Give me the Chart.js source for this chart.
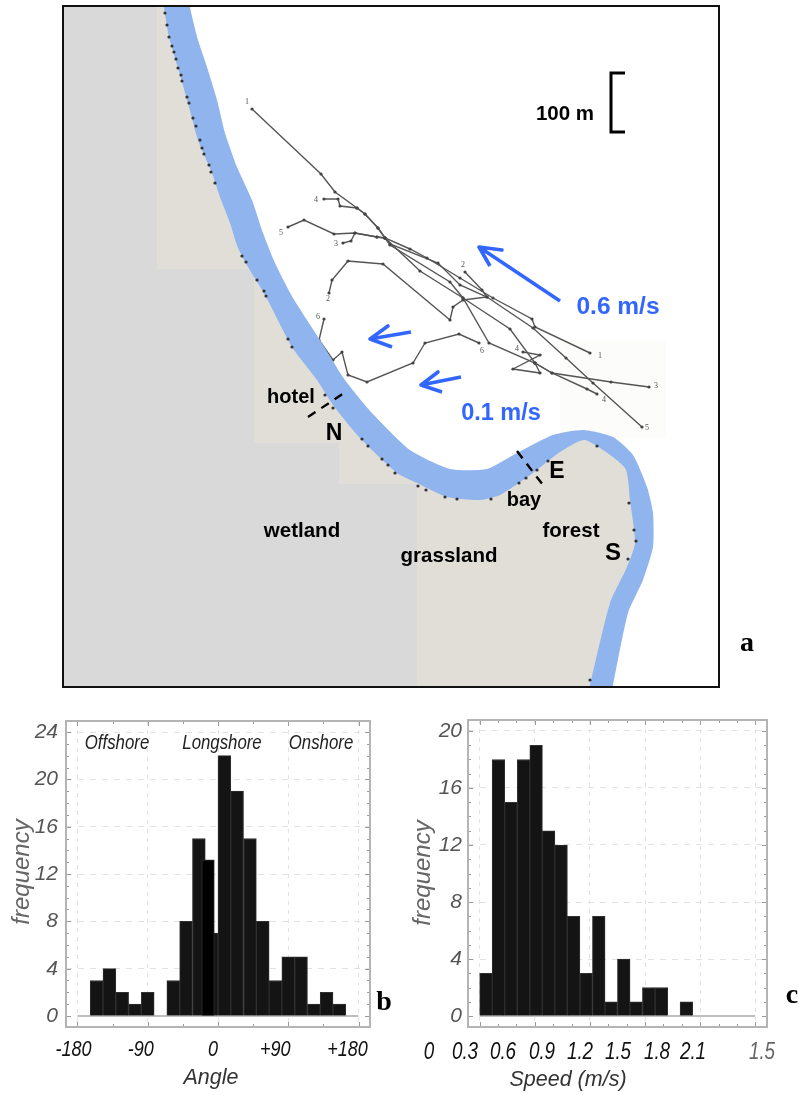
<!DOCTYPE html>
<html>
<head>
<meta charset="utf-8">
<title>drifter tracks and histograms</title>
<script src="https://cdn.jsdelivr.net/npm/chart.js@4"></script>
<style>
	body { margin: 0; background: #fff; }
	canvas { position: absolute; }
	#mapChart { left: 0; top: 0; }
	#angleChart { left: 0; top: 700px; }
	#speedChart { left: 400px; top: 700px; }
</style>
</head>
<body>
<canvas id="mapChart" width="799" height="700"></canvas>
<canvas id="angleChart" width="400" height="395"></canvas>
<canvas id="speedChart" width="399" height="395"></canvas>

<script>
// =====================================================
// data : map
const riverRight = [[190, -5], [190, 7], [198, 40], [207, 67], [217, 100], [225, 133], [237, 167], [252, 200], [263, 233], [275, 263], [293, 298], [320, 340], [345, 380], [372, 413], [410, 450], [450, 469], [487, 469], [517, 453], [553, 435], [583, 430], [613, 437], [633, 455], [647, 487], [653, 513], [653, 547], [643, 580], [628, 613], [613, 685], [611, 695]];
const riverLeft = [[163, -5], [164, 7], [169, 37], [178, 68], [188, 103], [198, 140], [212, 173], [220, 197], [230, 223], [238, 248], [248, 267], [265, 295], [292, 347], [317, 380], [333, 405], [360, 438], [397, 473], [417, 483], [447, 497], [480, 500], [500, 495], [533, 473], [560, 452], [585, 440], [625, 468], [630, 500], [635, 543], [627, 567], [610, 603], [590, 685], [588, 695]];
const riverMid = [[177, 6], [190, 67], [212, 133], [237, 200], [259, 267], [302, 340], [331, 380], [352, 408], [385, 443], [413, 467], [450, 483], [482, 485], [508, 475], [537, 457], [563, 445], [585, 436], [605, 450], [628, 470], [638, 493], [643, 520], [644, 543], [637, 572], [620, 610], [602, 687]];
const wetland = [[63, 6], [157, 6], [157, 269], [254, 269], [254, 443], [339, 443], [339, 484], [417, 484], [417, 687], [63, 687]];
const landEdge = [[417, 687], [417, 484], [339, 484], [339, 443], [254, 443], [254, 269], [157, 269], [157, 6]];
const photoPatch = [[560, 340], [666, 340], [666, 438], [560, 438]];

const track1 = [[252, 109], [321, 174], [335, 192], [357, 208], [365, 214], [378, 228], [385, 238], [410, 249], [427, 258], [460, 278], [493, 298], [532, 319], [535, 327], [590, 353]];
const track2 = [[329, 293], [332, 280], [348, 261], [383, 264], [450, 320], [453, 307], [463, 300], [487, 297], [482, 290], [465, 272]];
const track3 = [[343, 243], [351, 241], [355, 233], [377, 237], [385, 238], [420, 271], [463, 298], [510, 329], [535, 363], [552, 373], [611, 382], [649, 387]];
const track4 = [[324, 199], [338, 199], [340, 206], [357, 208], [365, 214], [378, 228], [385, 238], [390, 245], [450, 282], [463, 298], [489, 343], [535, 363], [552, 373], [587, 389], [597, 394]];
const track4b = [[535, 363], [540, 373], [513, 369], [540, 355], [523, 352]];
const track5 = [[288, 227], [304, 220], [334, 234], [355, 233], [377, 237], [385, 238], [390, 244], [438, 263], [460, 285], [487, 297], [533, 328], [566, 358], [593, 383], [642, 427]];
const track6 = [[324, 319], [319, 340], [333, 360], [342, 352], [348, 375], [367, 382], [413, 363], [425, 343], [459, 334], [479, 343]];

const coastDots = [[165, 13], [167, 25], [169, 37], [172, 46], [174, 52], [176, 59], [178, 68], [181, 75], [182, 81], [187, 97], [189, 103], [193, 118], [196, 126], [200, 140], [202, 148], [204, 154], [209, 165], [211, 172], [215, 183], [242, 256], [246, 262], [257, 280], [264, 291], [266, 296], [288, 339], [292, 347], [325, 395], [333, 408], [362, 439], [368, 446], [382, 459], [388, 465], [395, 473], [418, 486], [426, 490], [445, 497], [457, 499], [491, 499], [519, 483], [526, 478], [537, 470], [548, 461], [597, 446], [629, 503], [634, 530], [636, 541], [628, 559], [590, 680]];

const arrowFast = [[560, 301], [479, 247], [502, 250], [479, 247], [490, 266]];
const arrowMid = [[411, 332], [370, 339], [388, 326], [370, 339], [392, 347]];
const arrowSlow = [[461, 377], [421, 385], [438, 372], [421, 385], [442, 392]];
const scaleBar = [[625, 73], [611, 73], [611, 132], [625, 132]];
const hotelLine = [[308, 417], [347, 391]];
const bayLine = [[517, 451], [546, 489]];

// data : angle histogram
const angleBins = [-171.8, -155.5, -139.1, -122.7, -106.4, -90, -73.6, -57.3, -40.9, -24.5, -8.2, 8.2, 24.5, 40.9, 57.3, 73.6, 90, 106.4, 122.7, 139.1, 155.5, 171.8];
const angleFreq = [0, 3, 4, 2, 1, 2, 0, 3, 8, 15, 7, 22, 19, 15, 8, 3, 5, 5, 1, 2, 1, 0];
const angleOverBin = [-12.8];
const angleOverFreq = [13.2];
const angleTicks = [-180, -90, 0, 90, 180];
const angleMinorTicks = [-135, -45, 45, 135];
const angleTickLabels = ["-180", "-90", "0", "+90", "+180"];
const angleFreqTicks = [0, 1, 2, 3, 4, 5, 6, 7, 8, 9, 10, 11, 12, 13, 14, 15, 16, 17, 18, 19, 20, 21, 22, 23, 24];

// data : speed histogram
const speedBins = [0.034, 0.102, 0.170, 0.239, 0.307, 0.375, 0.443, 0.511, 0.580, 0.648, 0.716, 0.784, 0.852, 0.920, 0.989, 1.057, 1.125, 1.193, 1.261, 1.330, 1.398, 1.466];
const speedFreq = [3, 18, 15, 18, 19, 13, 12, 7, 3, 7, 1, 4, 1, 2, 2, 0, 1, 0, 0, 0, 0, 0];
const speedTicks = [0, 0.3, 0.6, 0.9, 1.2, 1.5];
const speedMinorTicks = [0.1, 0.2, 0.4, 0.5, 0.7, 0.8, 1.0, 1.1, 1.3, 1.4];
const speedTickLabels = ["0", "0.3", "0.6", "0.9", "1.2", "1.5", "1.8", "2.1", "1.5"];
const speedFreqTicks = [0, 1, 2, 3, 4, 5, 6, 7, 8, 9, 10, 11, 12, 13, 14, 15, 16, 17, 18, 19, 20];

// =====================================================
const SANS = '"Liberation Sans", Arial, sans-serif';
const SERIF = '"Liberation Serif", serif';
const BLUE = "#3366ff";

// squeeze : 가로로 좁힌 글자 (Arial Narrow 대신)
function putText(ctx, text, x, y, font, color, rotate, squeeze) {
	ctx.save();
	ctx.translate(x, y);
	if (rotate) ctx.rotate(rotate);
	if (squeeze) ctx.scale(squeeze, 1);
	ctx.font = font;
	ctx.fillStyle = color;
	ctx.textAlign = "center";
	ctx.textBaseline = "middle";
	ctx.fillText(text, 0, 0);
	ctx.restore();
}

function trackSet(points) {
	return {
		data: points, borderColor: "#555", borderWidth: 1.4, tension: 0,
		pointRadius: 1.6, pointBackgroundColor: "#444", pointBorderWidth: 0
	};
}

function arrowSet(points) {
	return { data: points, borderColor: BLUE, borderWidth: 3.6, pointRadius: 0, tension: 0, borderJoinStyle: "round" };
}

function inkSet(points, dash) {
	return { data: points, borderColor: "#000", borderWidth: dash ? 2.4 : 3, borderDash: dash || [], pointRadius: 0, tension: 0 };
}

function areaSet(points, color, tension) {
	return {
		data: points, fill: "shape", backgroundColor: color, borderWidth: 0, pointRadius: 0,
		tension: tension || 0, capBezierPoints: false, clip: 0
	};
}

// 지도
const mapTexts = [
	["100 m", 565, 114, "bold 20.5px " + SANS, "#000"],
	["0.6 m/s", 618, 307, "bold 24.5px " + SANS, BLUE],
	["0.1 m/s", 501, 414, "bold 23.5px " + SANS, BLUE],
	["hotel", 291, 397, "bold 20px " + SANS, "#000"],
	["N", 334, 434, "bold 23px " + SANS, "#000"],
	["E", 557, 472, "bold 23px " + SANS, "#000"],
	["bay", 524, 500, "bold 20px " + SANS, "#000"],
	["forest", 571, 531, "bold 20.5px " + SANS, "#000"],
	["S", 613, 553, "bold 24px " + SANS, "#000"],
	["wetland", 302, 531, "bold 20.5px " + SANS, "#000"],
	["grassland", 449, 556, "bold 20.5px " + SANS, "#000"],
	["a", 747, 644, "bold 28px " + SERIF, "#000"],
	["1", 247, 102, "8px " + SERIF, "#555"],
	["4", 316, 200, "8px " + SERIF, "#555"],
	["5", 281, 233, "8px " + SERIF, "#555"],
	["3", 336, 244, "8px " + SERIF, "#555"],
	["2", 328, 299, "8px " + SERIF, "#555"],
	["6", 318, 317, "8px " + SERIF, "#555"],
	["2", 463, 265, "8px " + SERIF, "#555"],
	["1", 600, 356, "8px " + SERIF, "#555"],
	["3", 656, 386, "8px " + SERIF, "#555"],
	["4", 604, 400, "8px " + SERIF, "#555"],
	["5", 647, 428, "8px " + SERIF, "#555"],
	["6", 482, 351, "8px " + SERIF, "#555"],
	["4", 517, 349, "8px " + SERIF, "#555"]
];

new Chart(document.getElementById("mapChart"), {
	type: "line",
	data: {
		datasets: [
			{ data: coastDots, showLine: false, pointRadius: 1.6, pointBackgroundColor: "#333", pointBorderWidth: 0, clip: 0 },
			inkSet(hotelLine, [9, 7]),
			inkSet(bayLine, [9, 7]),
			inkSet(scaleBar),
			arrowSet(arrowFast),
			arrowSet(arrowMid),
			arrowSet(arrowSlow),
			areaSet(riverRight.concat(riverLeft.slice().reverse()), "#8fb4ee", 0.2),
			trackSet(track1), trackSet(track2), trackSet(track3), trackSet(track4),
			trackSet(track4b), trackSet(track5), trackSet(track6),
			areaSet(wetland, "#d9d9d9"),
			areaSet(riverMid.concat(landEdge), "#e0ded6"),
			areaSet(photoPatch, "#fcfcfb")
		]
	},
	options: {
		responsive: false,
		animation: false,
		layout: { padding: { left: 63, top: 6, right: 80, bottom: 13 } },
		plugins: { legend: { display: false }, tooltip: { enabled: false } },
		scales: {
			x: { type: "linear", display: false, min: 63, max: 719 },
			y: { type: "linear", display: false, min: 6, max: 687, reverse: true }
		}
	},
	plugins: [{
		id: "mapDecor",
		afterDraw(chart) {
			const ctx = chart.ctx, a = chart.chartArea;
			ctx.save();
			ctx.strokeStyle = "#111";
			ctx.lineWidth = 2;
			ctx.strokeRect(a.left, a.top, a.right - a.left, a.bottom - a.top);
			ctx.restore();
			mapTexts.forEach(function(m) {
				putText(ctx, m[0], chart.scales.x.getPixelForValue(m[1]), chart.scales.y.getPixelForValue(m[2]), m[3], m[4]);
			});
		}
	}]
});

// =====================================================
// 히스토그램 공통
function drawFrame(chart, majorX, minorX) {
	const ctx = chart.ctx, a = chart.chartArea, sx = chart.scales.x, sy = chart.scales.y;
	ctx.save();
	ctx.strokeStyle = "#9a9a9a";
	ctx.lineWidth = 1;
	ctx.beginPath();
	majorX.concat(minorX).forEach(function(v) {
		const px = Math.round(sx.getPixelForValue(v)) + 0.5;
		const len = majorX.includes(v) ? 5 : 3;
		ctx.moveTo(px, a.top); ctx.lineTo(px, a.top + len);
		ctx.moveTo(px, a.bottom); ctx.lineTo(px, a.bottom - len);
	});
	sy.ticks.forEach(function(t) {
		const py = Math.round(sy.getPixelForValue(t.value)) + 0.5;
		const len = t.value % 4 === 0 ? 5 : 3;
		ctx.moveTo(a.left, py); ctx.lineTo(a.left + len, py);
		ctx.moveTo(a.right, py); ctx.lineTo(a.right - len, py);
	});
	ctx.stroke();
	ctx.strokeStyle = "#b4b4b4";
	ctx.lineWidth = 2;
	ctx.strokeRect(a.left, a.top, a.right - a.left, a.bottom - a.top);
	ctx.restore();
}

function histScales(xRange, xGrid, yRange, yTicks, yWidth, tickPad) {
	return {
		x: {
			type: "linear", min: xRange[0], max: xRange[1], offset: false,
			border: { display: false, dash: [4, 5] },
			grid: { drawTicks: false, color: "#e2e2e2", offset: false },
			ticks: { display: false },
			afterBuildTicks(s) { s.ticks = xGrid.map(function(v) { return { value: v }; }); },
			afterFit(s) { s.height = 68; }
		},
		y: {
			type: "linear", min: yRange[0], max: yRange[1],
			border: { display: false, dash: [6, 6] },
			grid: {
				drawTicks: false,
				color(c) { return c.tick && c.tick.value % 4 === 0 && c.tick.value > 0 ? "#e2e2e2" : "rgba(0,0,0,0)"; }
			},
			ticks: {
				autoSkip: false, padding: tickPad, color: "#555",
				font: { family: SANS, size: 21, style: "italic" },
				callback(v) { return v % 4 === 0 ? String(v) : ""; }
			},
			afterBuildTicks(s) { s.ticks = yTicks.map(function(v) { return { value: v }; }); },
			afterFit(s) { s.width = yWidth; }
		}
	};
}

const barStyle = {
	backgroundColor: "#141414", borderColor: "#303030", borderWidth: 1,
	grouped: false
};

// 각도 히스토그램
new Chart(document.getElementById("angleChart"), {
	data: {
		datasets: [
			Object.assign({}, barStyle, {
				type: "bar",
				data: angleOverBin.map(function(x, i) { return { x: x, y: angleOverFreq[i] }; }),
				backgroundColor: "#000", barThickness: 12.6
			}),
			Object.assign({}, barStyle, {
				type: "bar",
				data: angleBins.map(function(x, i) { return { x: x, y: angleFreq[i] }; }),
				barThickness: 12.8
			}),
			{ type: "line", data: [[-180, 0], [180, 0]], borderColor: "#a8a8a8", borderWidth: 1.5, pointRadius: 0 }
		]
	},
	options: {
		responsive: false,
		animation: false,
		layout: { padding: { left: 0, top: 21, right: 30, bottom: 0 } },
		plugins: { legend: { display: false }, tooltip: { enabled: false } },
		scales: histScales([-194.7, 194.7], angleTicks, [-0.93, 24.93], angleFreqTicks, 66, 8)
	},
	plugins: [{
		id: "angleDecor",
		afterDraw(chart) {
			const ctx = chart.ctx, sx = chart.scales.x;
			drawFrame(chart, angleTicks, angleMinorTicks);
			const shift = [-4, -7, -5, -13, -11];
			angleTicks.forEach(function(v, i) {
				putText(ctx, angleTickLabels[i], sx.getPixelForValue(v) + shift[i], 350, "italic 22px " + SANS, "#111", 0, 0.82);
			});
			putText(ctx, "Offshore", 117, 43, "italic 20.5px " + SANS, "#222", 0, 0.82);
			putText(ctx, "Longshore", 222, 43, "italic 20.5px " + SANS, "#222", 0, 0.82);
			putText(ctx, "Onshore", 321, 43, "italic 20.5px " + SANS, "#222", 0, 0.82);
			putText(ctx, "frequency", 22, 172, "italic 24px " + SANS, "#666", -Math.PI / 2);
			putText(ctx, "Angle", 211, 378, "italic 21.5px " + SANS, "#333");
			putText(ctx, "b", 384, 303, "bold 28px " + SERIF, "#000");
		}
	}]
});

// 속도 히스토그램
new Chart(document.getElementById("speedChart"), {
	data: {
		datasets: [
			Object.assign({}, barStyle, {
				type: "bar",
				data: speedBins.map(function(x, i) { return { x: x, y: speedFreq[i] }; }),
				barThickness: 12.6
			}),
			{ type: "line", data: [[0, 0], [1.5, 0]], borderColor: "#a8a8a8", borderWidth: 1.5, pointRadius: 0 }
		]
	},
	options: {
		responsive: false,
		animation: false,
		layout: { padding: { left: 0, top: 20, right: 32, bottom: 0 } },
		plugins: { legend: { display: false }, tooltip: { enabled: false } },
		scales: histScales([-0.0638, 1.5638], speedTicks, [-0.77, 20.77], speedFreqTicks, 68, 6)
	},
	plugins: [{
		id: "speedDecor",
		afterDraw(chart) {
			const ctx = chart.ctx;
			drawFrame(chart, speedTicks, speedMinorTicks);
			// 글자 위치는 실제 눈금과 안 맞음 (원본도 덧씌운 라벨)
			const labelX = [29, 65, 103, 142, 180, 218, 257, 293, 362];
			speedTickLabels.forEach(function(t, i) {
				putText(ctx, t, labelX[i], 353, "italic 23px " + SANS, i === 8 ? "#666" : "#111", 0, 0.82);
			});
			putText(ctx, "frequency", 23, 173, "italic 24px " + SANS, "#666", -Math.PI / 2);
			putText(ctx, "Speed (m/s)", 168, 380, "italic 21.5px " + SANS, "#333");
			putText(ctx, "c", 392, 296, "bold 28px " + SERIF, "#000");
		}
	}]
});
</script>
</body>
</html>
